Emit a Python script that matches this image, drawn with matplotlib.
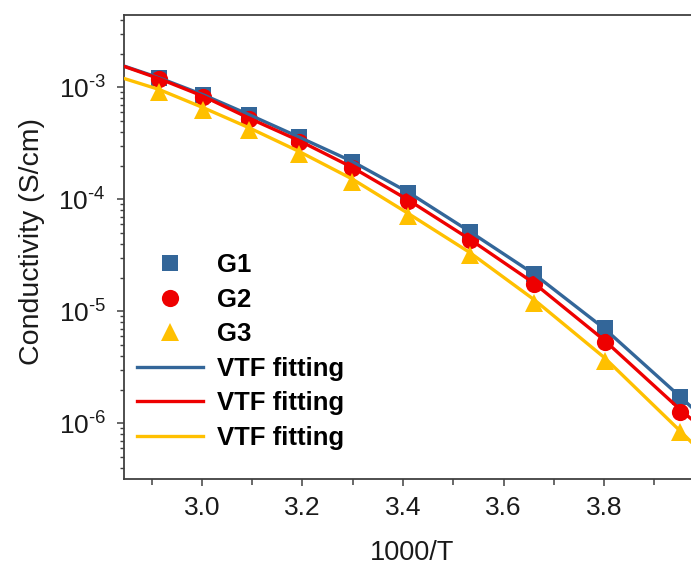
import numpy as np
import matplotlib
matplotlib.use("Agg")
import matplotlib.pyplot as plt
from matplotlib.ticker import LogLocator, MultipleLocator, NullFormatter, FixedLocator

plt.rcParams['font.family'] = ['Liberation Sans', 'DejaVu Sans']
plt.rcParams['mathtext.fontset'] = 'custom'
plt.rcParams['mathtext.rm'] = 'Liberation Sans'
plt.rcParams['mathtext.it'] = 'Liberation Sans'
plt.rcParams['mathtext.bf'] = 'Liberation Sans:bold'

# ---- data ----
inv_T = [2.914, 3.002, 3.094, 3.193, 3.299, 3.410, 3.533, 3.661, 3.801, 3.952]
g1 = [1.21e-3, 8.5e-4, 5.66e-4, 3.58e-4, 2.17e-4, 1.15e-4, 5.14e-5, 2.15e-5, 7.05e-6, 1.73e-6]
g2 = [1.18e-3, 8.2e-4, 5.18e-4, 3.27e-4, 1.89e-4, 9.75e-5, 4.34e-5, 1.75e-5, 5.36e-6, 1.27e-6]
g3 = [9.1e-4, 6.3e-4, 4.16e-4, 2.54e-4, 1.44e-4, 7.1e-5, 3.18e-5, 1.19e-5, 3.62e-6, 8.4e-7]

fit_x = [2.845, 2.914, 3.002, 3.094, 3.193, 3.299, 3.410, 3.533, 3.661, 3.801, 3.952, 3.975]
fit_g1 = [1.55e-3, 1.22e-3, 8.6e-4, 5.7e-4, 3.6e-4, 2.18e-4, 1.16e-4, 5.15e-5, 2.15e-5, 7.0e-6, 1.72e-6, 1.38e-6]
fit_g2 = [1.54e-3, 1.2e-3, 8.35e-4, 5.3e-4, 3.35e-4, 1.93e-4, 9.9e-5, 4.4e-5, 1.78e-5, 5.5e-6, 1.32e-6, 1.08e-6]
fit_g3 = [1.2e-3, 9.6e-4, 6.6e-4, 4.35e-4, 2.68e-4, 1.52e-4, 7.5e-5, 3.35e-5, 1.27e-5, 3.85e-6, 8.5e-7, 6.7e-7]

series_labels = ['G1', 'G2', 'G3']
fit_label = 'VTF fitting'
x_label = '1000/T'
y_label = 'Conductivity (S/cm)'
x_ticks = [3.0, 3.2, 3.4, 3.6, 3.8]
y_ticks = [1e-6, 1e-5, 1e-4, 1e-3]

c_blue = '#336699'
c_red = '#EE0000'
c_yel = '#FFC000'
txt_c = '#1a1a1a'

W, H = 691, 567
fig = plt.figure(figsize=(W / 100, H / 100), dpi=100)
ax = fig.add_axes([124 / W, 1 - 479 / H, 1 - 124 / W, (479 - 15) / H])

# markers
h1, = ax.plot(inv_T, g1, 's', color=c_blue, ms=11.0, mew=0, zorder=3, label=series_labels[0])
h2, = ax.plot(inv_T, g2, 'o', color=c_red, ms=12.4, mew=0, zorder=3, label=series_labels[1])
h3, = ax.plot(inv_T, g3, '^', color=c_yel, ms=12.7, mew=0, zorder=3, label=series_labels[2])
# fits
l1, = ax.plot(fit_x, fit_g1, '-', color=c_blue, lw=2.4, zorder=4, label=fit_label)
l2, = ax.plot(fit_x, fit_g2, '-', color=c_red, lw=2.4, zorder=4, label=fit_label)
l3, = ax.plot(fit_x, fit_g3, '-', color=c_yel, lw=2.4, zorder=4, label=fit_label)

ax.set_yscale('log')
ax.set_xlim(2.845, 3.973)
ax.set_ylim(10 ** -6.497, 10 ** -2.354)

ax.xaxis.set_major_locator(FixedLocator(x_ticks))
ax.xaxis.set_minor_locator(MultipleLocator(0.1))
ax.set_xticklabels([f'{v:.1f}' for v in x_ticks])
ax.yaxis.set_major_locator(FixedLocator(y_ticks))
ax.yaxis.set_minor_locator(LogLocator(base=10, subs=np.arange(2, 10)))
ax.yaxis.set_minor_formatter(NullFormatter())
ax.set_yticklabels([r'$\mathregular{10^{\text{-}%d}}$' % abs(int(round(np.log10(v)))) for v in y_ticks])

spine_c = '#404040'
for s in ['left', 'bottom', 'top']:
    ax.spines[s].set_color(spine_c)
    ax.spines[s].set_linewidth(1.3)
ax.spines['right'].set_visible(False)

ax.tick_params(axis='x', which='major', direction='out', length=5, width=1.1, color=spine_c,
               labelsize=19, pad=7.4, labelcolor=txt_c)
ax.tick_params(axis='x', which='minor', direction='out', length=4, width=1.1, color=spine_c)
ax.tick_params(axis='y', which='major', direction='out', length=5, width=1.1, color=spine_c,
               labelsize=19, pad=8.0, labelcolor=txt_c)
ax.tick_params(axis='y', which='minor', direction='out', length=3, width=1.0, color=spine_c)

fig.text(412 / W, 1 - 560 / H, x_label, fontsize=19.5, color=txt_c, ha='center', va='baseline')
fig.text(39 / W, 1 - 241.5 / H, y_label, fontsize=20.5, color=txt_c, rotation=90,
         rotation_mode='anchor', ha='center', va='baseline')

leg = ax.legend(handles=[h1, h2, h3, l1, l2, l3], loc='upper left',
                bbox_to_anchor=(137 / W, 1 - 253 / H), bbox_transform=fig.transFigure,
                frameon=False, prop={'size': 18.5, 'weight': 'bold'},
                handlelength=2.57, handletextpad=0.545, labelspacing=0.41,
                borderpad=0, borderaxespad=0)

fig.savefig('out.png', dpi=100)
